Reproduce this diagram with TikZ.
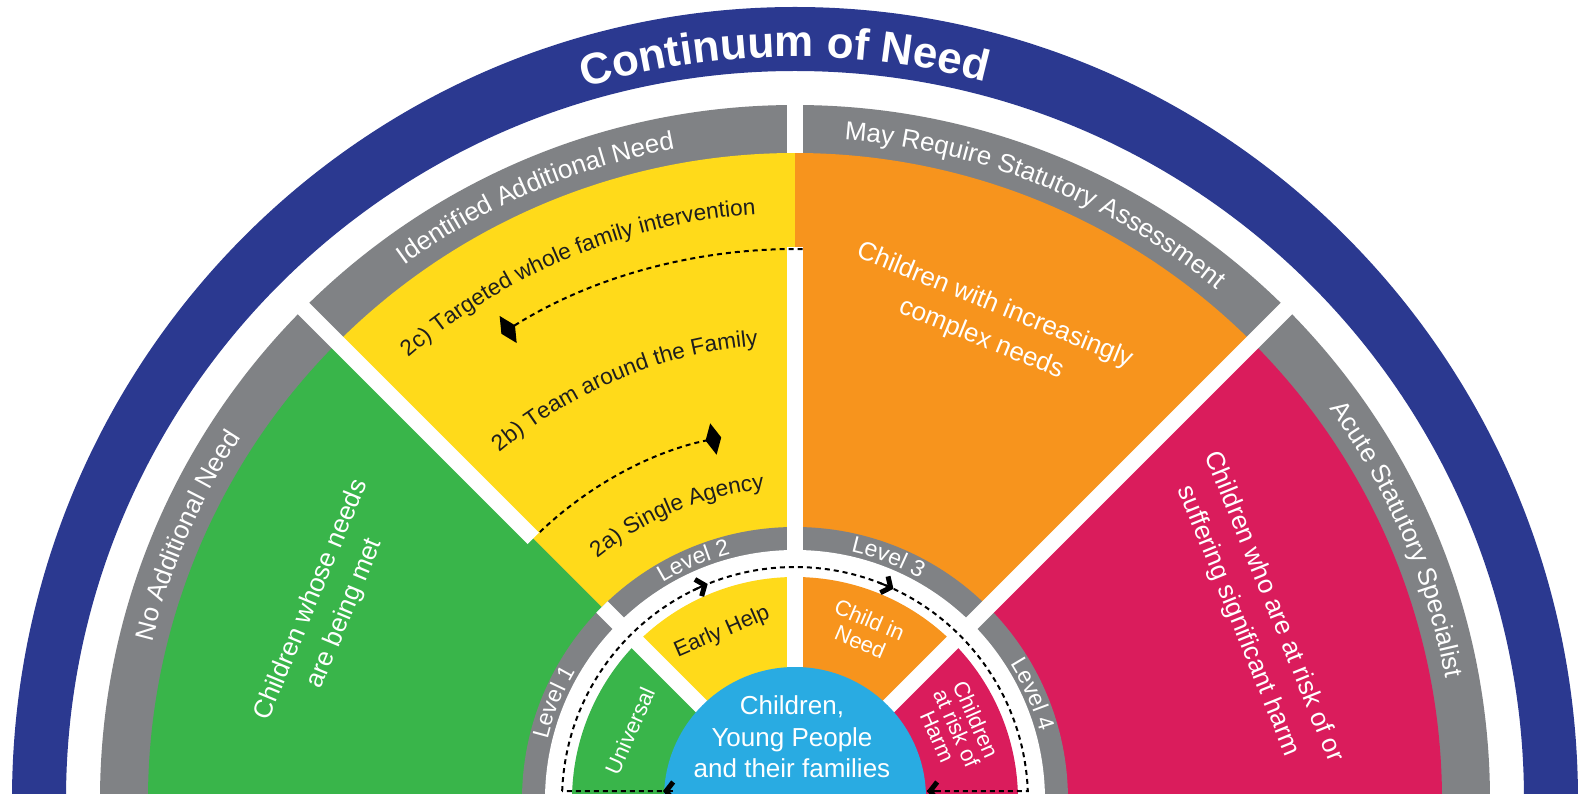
\documentclass[tikz,border=0pt]{standalone}
\usepackage{fontspec}
\setmainfont{Liberation Sans}
\usetikzlibrary{arrows.meta,decorations.text}
\definecolor{needblue}{HTML}{2B3990}
\definecolor{bandgray}{HTML}{808285}
\definecolor{univgreen}{HTML}{39B54A}
\definecolor{helpyellow}{HTML}{FFDA1A}
\definecolor{needorange}{HTML}{F7941D}
\definecolor{harmpink}{HTML}{DA1C5C}
\definecolor{familyblue}{HTML}{29ABE2}
\definecolor{darktext}{HTML}{1E1E1E}
\tikzset{
  whitegap/.style={white, line width=8pt},
  arctext/.style 2 args={decorate, decoration={text along path, text align=center, text={|#1|#2}}},
  bandlabel/.style={arctext={\color{white}\fontsize{13}{13}\selectfont}{#1}},
  levellabel/.style={arctext={\color{white}\fontsize{11.5}{11.5}\selectfont}{#1}},
  stagelabel/.style={arctext={\color{darktext}\fontsize{11.3}{11.3}\selectfont}{#1}},
  sectortext/.style={text=white, align=center, font=\fontsize{13}{18}\selectfont},
  innertext/.style={align=center, font=\fontsize{11}{12}\selectfont},
  flow/.style={line width=1pt, dash pattern=on 2.5pt off 2pt},
  chevron/.style={-{Straight Barb[length=3.5pt,width=9pt,line width=2.5pt]}, line width=1pt},
  diamondtip/.style={-{Diamond[length=8pt,width=16pt]}},
}
\begin{document}
\begin{tikzpicture}[x=0.5pt, y=0.5pt]
  \useasboundingbox (-795,7) rectangle (783,800);
  \clip (-795,7) rectangle (783,800);
  \fill[white] (-795,7) rectangle (783,800);
  \fill[needblue, even odd rule] (0,0) ellipse[x radius=783, y radius=793] (0,0) circle[radius=729];
  \path[arctext={\color{white}\bfseries\fontsize{22}{22}\selectfont}{Continuum of Need}]
    (150.8:743) arc[start angle=150.8, end angle=30.8, radius=743];
  \fill[bandgray] (0,0) circle[radius=695];
  \fill[univgreen] (0,0) -- (135:647) arc[start angle=135, end angle=180, radius=647] -- cycle;
  \fill[helpyellow] (0,0) -- (90:647) arc[start angle=90, end angle=135, radius=647] -- cycle;
  \fill[needorange] (0,0) -- (45:647) arc[start angle=45, end angle=90, radius=647] -- cycle;
  \fill[harmpink] (0,0) -- (0:647) arc[start angle=0, end angle=45, radius=647] -- cycle;
  \fill[bandgray] (0,0) circle[radius=273];
  \fill[white] (0,0) circle[radius=250];
  \fill[univgreen] (0,0) -- (135:223) arc[start angle=135, end angle=180, radius=223] -- cycle;
  \fill[helpyellow] (0,0) -- (90:223) arc[start angle=90, end angle=135, radius=223] -- cycle;
  \fill[needorange] (0,0) -- (45:223) arc[start angle=45, end angle=90, radius=223] -- cycle;
  \fill[harmpink] (0,0) -- (0:223) arc[start angle=0, end angle=45, radius=223] -- cycle;
  \draw[whitegap] (0,0) -- (45:700);
  \draw[whitegap] (0,0) -- (90:553) (90:647) -- (90:700);
  \draw[whitegap] (0,0) -- (135:273) (135:370) -- (135:700);
  \draw[flow] (177.8:233) arc[start angle=177.8, end angle=2.2, radius=233] -- cycle;
  \fill[familyblue] (0,2) circle[radius=131];
  \draw[chevron] (116:233) arc[start angle=116, end angle=112, radius=233];
  \draw[chevron] (69:233) arc[start angle=69, end angle=65, radius=233];
  \draw[chevron] (142,9) -- (132,9);
  \draw[chevron] (-122,9) -- (-132,9);
  \draw[flow, diamondtip] (89.2:551) arc[start angle=89.2, end angle=122.2, radius=551];
  \draw[flow, diamondtip] (133.6:370) arc[start angle=133.6, end angle=101.5, radius=370];
  \path[bandlabel={No Additional Need}] (196.5:662) arc[start angle=196.5, end angle=116.5, radius=662];
  \path[bandlabel={Identified Additional Need}] (153.3:662) arc[start angle=153.3, end angle=73.3, radius=662];
  \path[bandlabel={May Require Statutory Assessment}] (108.1:662) arc[start angle=108.1, end angle=28.1, radius=662];
  \path[bandlabel={Acute Statutory Specialist}] (63.4:662) arc[start angle=63.4, end angle=-16.6, radius=662];
  \path[levellabel={Level 1}] (198:254.5) arc[start angle=198, end angle=118, radius=254.5];
  \path[levellabel={Level 2}] (153:254.5) arc[start angle=153, end angle=73, radius=254.5];
  \path[levellabel={Level 3}] (109:254.5) arc[start angle=109, end angle=29, radius=254.5];
  \path[levellabel={Level 4}] (64:254.5) arc[start angle=64, end angle=-16, radius=254.5];
  \path[stagelabel={2c) Targeted whole family intervention}] (152.5:587) arc[start angle=152.5, end angle=72.5, radius=587];
  \path[stagelabel={2b) Team around the Family}] (152.5:456) arc[start angle=152.5, end angle=72.5, radius=456];
  \path[stagelabel={2a) Single Agency}] (152.5:312) arc[start angle=152.5, end angle=72.5, radius=312];
  \node[sectortext, rotate=67.5] (needsmet) at (157.5:505) {Children whose needs\\are being met};
  \node[sectortext, rotate=-22] (complex) at (68:515) {Children with increasingly\\complex needs};
  \node[sectortext, rotate=-68, font=\fontsize{13}{19}\selectfont] (harm) at (22:497) {Children who are at risk of or\\suffering significant harm};
  \node[innertext, text=white, rotate=66] (universal) at (157.3:179) {Universal};
  \node[innertext, text=darktext, rotate=23.5] (earlyhelp) at (113.5:183) {Early Help};
  \node[innertext, text=white, rotate=-23] (cin) at (67.5:183) {Child in\\Need};
  \node[innertext, text=white, rotate=-66, font=\fontsize{11}{10.5}\selectfont] (atrisk) at (24:177) {Children\\at risk of\\Harm};
  \node[text=white, align=center, font=\fontsize{13}{15.7}\selectfont] (family) at (-3,63) {Children,\\Young People\\and their families};
\end{tikzpicture}
\end{document}
